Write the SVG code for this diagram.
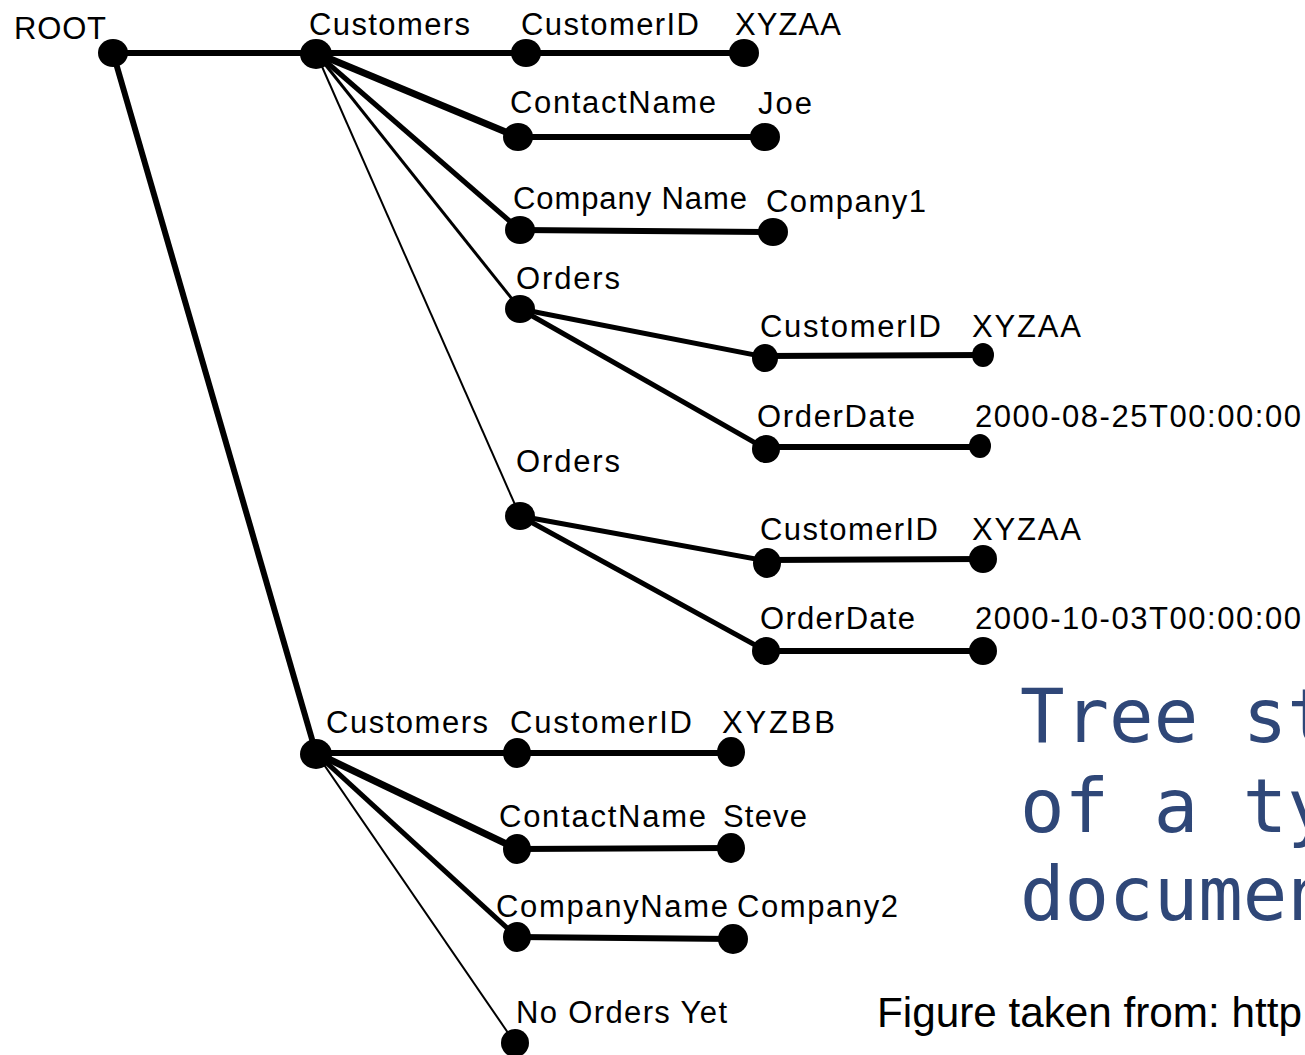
<svg xmlns="http://www.w3.org/2000/svg" width="1305" height="1055" viewBox="0 0 1305 1055">
<style>
.lbl{font-family:"Liberation Sans",Arial,sans-serif;font-size:31px;fill:#000}
.dot{fill:#000}
.e{stroke:#000;stroke-linecap:butt;fill:none}
.w2{stroke-width:2}
.w3{stroke-width:3}
.w4{stroke-width:5}
.w5{stroke-width:6}
.w6{stroke-width:7}
.title{font-family:"DejaVu Sans Mono",monospace;font-size:74px;fill:#2F4778}
.cap{font-family:"Liberation Sans",Arial,sans-serif;font-size:43px;fill:#000}
</style>
<rect width="1305" height="1055" fill="#fff"/>
<g id="connectors">
<line class="e w5" x1="113" y1="53" x2="316" y2="53"/>
<line class="e w5" x1="113" y1="53" x2="316" y2="753"/>
<line class="e w5" x1="316" y1="53" x2="526" y2="53"/>
<line class="e w5" x1="526" y1="53" x2="743" y2="53"/>
<line class="e w6" x1="316" y1="53" x2="518" y2="137"/>
<line class="e w5" x1="518" y1="137" x2="765" y2="137"/>
<line class="e w4" x1="316" y1="53" x2="520" y2="230"/>
<line class="e w5" x1="520" y1="230" x2="773" y2="232"/>
<line class="e w3" x1="316" y1="53" x2="520" y2="309"/>
<line class="e w2" x1="316" y1="53" x2="520" y2="516"/>
<line class="e w4" x1="520" y1="309" x2="765" y2="357"/>
<line class="e w5" x1="765" y1="356" x2="983" y2="355"/>
<line class="e w4" x1="520" y1="309" x2="766" y2="449"/>
<line class="e w5" x1="766" y1="447" x2="980" y2="447"/>
<line class="e w4" x1="520" y1="516" x2="767" y2="561"/>
<line class="e w5" x1="767" y1="560" x2="983" y2="559"/>
<line class="e w4" x1="520" y1="516" x2="766" y2="651"/>
<line class="e w5" x1="766" y1="651" x2="983" y2="651"/>
<line class="e w5" x1="316" y1="753" x2="517" y2="753"/>
<line class="e w5" x1="517" y1="753" x2="731" y2="753"/>
<line class="e w6" x1="316" y1="753" x2="517" y2="849"/>
<line class="e w5" x1="517" y1="849" x2="731" y2="848"/>
<line class="e w4" x1="316" y1="753" x2="517" y2="937"/>
<line class="e w5" x1="517" y1="937" x2="733" y2="939"/>
<line class="e w2" x1="316" y1="753" x2="515" y2="1043"/>
</g>
<g id="n-root"><ellipse class="dot" cx="113" cy="53" rx="15" ry="14"/><text class="lbl" x="14" y="39" textLength="92" lengthAdjust="spacing">ROOT</text></g>
<g id="n-customers1"><ellipse class="dot" cx="316" cy="54" rx="16" ry="15"/><text class="lbl" x="309" y="35" textLength="161" lengthAdjust="spacing">Customers</text></g>
<g id="n-customerid1"><ellipse class="dot" cx="526" cy="53" rx="15" ry="14"/><text class="lbl" x="521" y="35" textLength="178" lengthAdjust="spacing">CustomerID</text></g>
<g id="n-xyzaa1"><ellipse class="dot" cx="744" cy="53" rx="15" ry="14"/><text class="lbl" x="735" y="35" textLength="106" lengthAdjust="spacing">XYZAA</text></g>
<g id="n-contactname1"><ellipse class="dot" cx="518" cy="137" rx="15" ry="14"/><text class="lbl" x="510" y="113" textLength="206" lengthAdjust="spacing">ContactName</text></g>
<g id="n-joe"><ellipse class="dot" cx="765" cy="137" rx="15" ry="14"/><text class="lbl" x="758" y="114" textLength="54" lengthAdjust="spacing">Joe</text></g>
<g id="n-companyname1"><ellipse class="dot" cx="520" cy="230" rx="15" ry="14"/><text class="lbl" x="513" y="209" textLength="234" lengthAdjust="spacing">Company Name</text></g>
<g id="n-company1"><ellipse class="dot" cx="773" cy="232" rx="15" ry="14"/><text class="lbl" x="766" y="212" textLength="160" lengthAdjust="spacing">Company1</text></g>
<g id="n-orders1"><ellipse class="dot" cx="520" cy="309" rx="15" ry="14"/><text class="lbl" x="516" y="289" textLength="104" lengthAdjust="spacing">Orders</text></g>
<g id="n-o1-customerid"><ellipse class="dot" cx="765" cy="358" rx="13" ry="14"/><text class="lbl" x="760" y="337" textLength="181" lengthAdjust="spacing">CustomerID</text></g>
<g id="n-o1-xyzaa"><ellipse class="dot" cx="983" cy="355" rx="11" ry="12"/><text class="lbl" x="972" y="337" textLength="109" lengthAdjust="spacing">XYZAA</text></g>
<g id="n-o1-orderdate"><ellipse class="dot" cx="766" cy="449" rx="14" ry="14"/><text class="lbl" x="757" y="427" textLength="158" lengthAdjust="spacing">OrderDate</text></g>
<g id="n-o1-date"><ellipse class="dot" cx="980" cy="446" rx="11" ry="12"/><text class="lbl" x="975" y="427" textLength="326" lengthAdjust="spacing">2000-08-25T00:00:00</text></g>
<g id="n-orders2"><ellipse class="dot" cx="520" cy="516" rx="15" ry="14"/><text class="lbl" x="516" y="472" textLength="104" lengthAdjust="spacing">Orders</text></g>
<g id="n-o2-customerid"><ellipse class="dot" cx="767" cy="563" rx="14" ry="15"/><text class="lbl" x="760" y="540" textLength="178" lengthAdjust="spacing">CustomerID</text></g>
<g id="n-o2-xyzaa"><ellipse class="dot" cx="983" cy="559" rx="14" ry="14"/><text class="lbl" x="972" y="540" textLength="109" lengthAdjust="spacing">XYZAA</text></g>
<g id="n-o2-orderdate"><ellipse class="dot" cx="766" cy="651" rx="14" ry="14"/><text class="lbl" x="760" y="629" textLength="155" lengthAdjust="spacing">OrderDate</text></g>
<g id="n-o2-date"><ellipse class="dot" cx="983" cy="651" rx="14" ry="14"/><text class="lbl" x="975" y="629" textLength="326" lengthAdjust="spacing">2000-10-03T00:00:00</text></g>
<g id="n-customers2"><ellipse class="dot" cx="316" cy="754" rx="16" ry="15"/><text class="lbl" x="326" y="733" textLength="162" lengthAdjust="spacing">Customers</text></g>
<g id="n-customerid2"><ellipse class="dot" cx="517" cy="753" rx="14" ry="15"/><text class="lbl" x="510" y="733" textLength="182" lengthAdjust="spacing">CustomerID</text></g>
<g id="n-xyzbb"><ellipse class="dot" cx="731" cy="752" rx="14" ry="15"/><text class="lbl" x="722" y="733" textLength="113" lengthAdjust="spacing">XYZBB</text></g>
<g id="n-contactname2"><ellipse class="dot" cx="517" cy="849" rx="14" ry="15"/><text class="lbl" x="499" y="827" textLength="207" lengthAdjust="spacing">ContactName</text></g>
<g id="n-steve"><ellipse class="dot" cx="731" cy="848" rx="14" ry="15"/><text class="lbl" x="723" y="827" textLength="84" lengthAdjust="spacing">Steve</text></g>
<g id="n-companyname2"><ellipse class="dot" cx="517" cy="937" rx="14" ry="15"/><text class="lbl" x="496" y="917" textLength="232" lengthAdjust="spacing">CompanyName</text></g>
<g id="n-company2"><ellipse class="dot" cx="733" cy="939" rx="15" ry="15"/><text class="lbl" x="737" y="917" textLength="161" lengthAdjust="spacing">Company2</text></g>
<g id="n-noorders"><ellipse class="dot" cx="515" cy="1043" rx="14" ry="14"/><text class="lbl" x="516" y="1023" textLength="211" lengthAdjust="spacing">No Orders Yet</text></g>
<g id="title">
<text class="title" x="1020" y="742">Tree st</text>
<text class="title" x="1020" y="832">of a ty</text>
<text class="title" x="1020" y="920">documen</text>
</g>
<text class="cap" x="877" y="1027" textLength="425" lengthAdjust="spacingAndGlyphs">Figure taken from: http</text>
</svg>
